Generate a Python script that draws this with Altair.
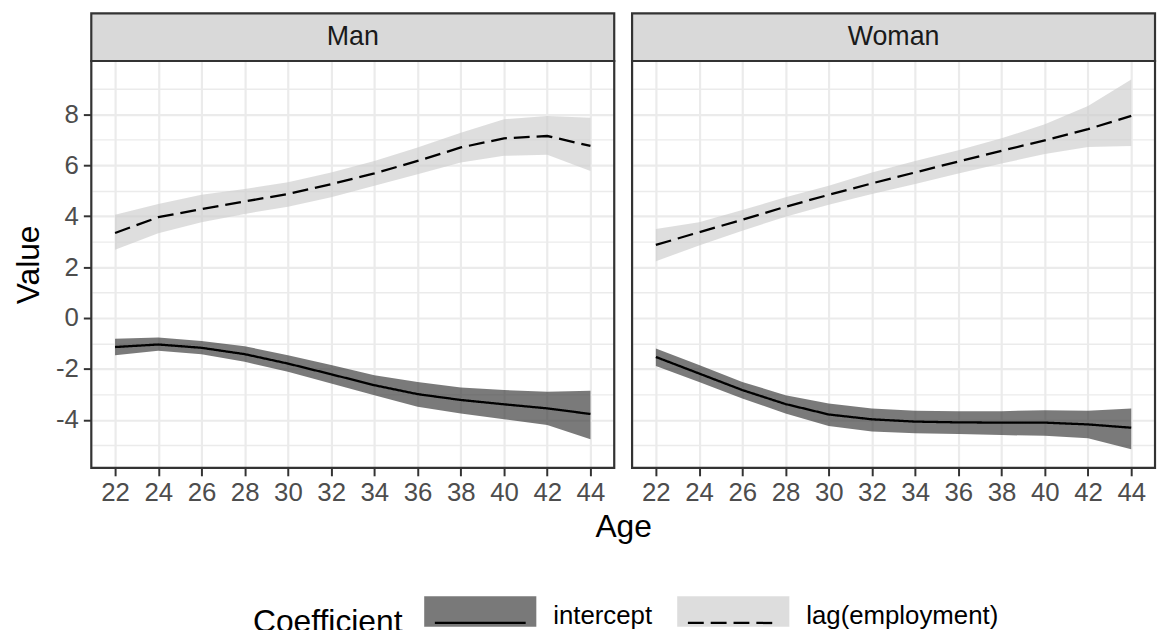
import altair as alt
import pandas as pd

FONT = "Liberation Sans"

ages = [22, 24, 26, 28, 30, 32, 34, 36, 38, 40, 42, 44]
genders = ["Man", "Woman"]
coefs = ["intercept", "lag(employment)"]

man_int_est = [-1.14, -1.04, -1.17, -1.42, -1.79, -2.21, -2.64, -2.99, -3.22, -3.39, -3.55, -3.77]
man_int_lo = [-1.46, -1.29, -1.42, -1.72, -2.11, -2.57, -3.03, -3.49, -3.75, -3.98, -4.20, -4.76]
man_int_hi = [-0.81, -0.77, -0.90, -1.11, -1.46, -1.85, -2.25, -2.51, -2.73, -2.83, -2.90, -2.86]
man_lag_est = [3.34, 3.96, 4.28, 4.58, 4.87, 5.26, 5.68, 6.17, 6.70, 7.06, 7.15, 6.76]
man_lag_lo = [2.68, 3.33, 3.76, 4.09, 4.37, 4.74, 5.20, 5.65, 6.11, 6.37, 6.41, 5.78]
man_lag_hi = [4.06, 4.48, 4.84, 5.07, 5.33, 5.72, 6.17, 6.70, 7.28, 7.81, 7.94, 7.87]
woman_int_est = [-1.53, -2.18, -2.83, -3.38, -3.79, -3.98, -4.07, -4.10, -4.11, -4.11, -4.18, -4.31]
woman_int_lo = [-1.89, -2.51, -3.16, -3.75, -4.24, -4.46, -4.53, -4.56, -4.60, -4.63, -4.72, -5.16]
woman_int_hi = [-1.20, -1.85, -2.51, -3.03, -3.36, -3.55, -3.64, -3.66, -3.66, -3.62, -3.64, -3.55]
woman_lag_est = [2.87, 3.37, 3.86, 4.37, 4.84, 5.29, 5.72, 6.15, 6.57, 6.98, 7.42, 7.94]
woman_lag_lo = [2.23, 2.85, 3.43, 3.98, 4.45, 4.87, 5.26, 5.68, 6.07, 6.44, 6.72, 6.76]
woman_lag_hi = [3.50, 3.76, 4.24, 4.74, 5.20, 5.72, 6.17, 6.59, 7.06, 7.61, 8.33, 9.37]

series = {
    ("Man", "intercept"): (man_int_est, man_int_lo, man_int_hi),
    ("Man", "lag(employment)"): (man_lag_est, man_lag_lo, man_lag_hi),
    ("Woman", "intercept"): (woman_int_est, woman_int_lo, woman_int_hi),
    ("Woman", "lag(employment)"): (woman_lag_est, woman_lag_lo, woman_lag_hi),
}
rows = []
for (g, c), (est, lo, hi) in series.items():
    for a, e, l, h in zip(ages, est, lo, hi):
        rows.append({"Gender": g, "Coefficient": c, "Line": c, "Age": a,
                     "est": e, "lower": l, "upper": h})
df = pd.DataFrame(rows)

W, H = 527, 410
STRIP = 48
all_vals = [v for s in series.values() for arr in s for v in arr]
lo_v, hi_v = min(all_vals), max(all_vals)
pad = 0.05 * (hi_v - lo_v)
yscale = alt.Scale(domain=[lo_v - pad, hi_v + pad], nice=False, zero=False)
xpad = 0.05 * (max(ages) - min(ages))
xscale = alt.Scale(domain=[min(ages) - xpad, max(ages) + xpad], nice=False, zero=False)

fill_scale = alt.Scale(domain=coefs, range=["#333333", "#CCCCCC"])
# dash scale takes its domain from the data field (keeps the two legends apart)
dash_scale = alt.Scale(range=[[1, 0], [16, 7]])

minor_test = "datum.value % 2 != 0"
grid_width = {"condition": {"test": minor_test, "value": 1.4}, "value": 2.2}

LEG_X, LEG_Y = 163, 501
BOX_PATH = "M-1,-0.355H1V0.19H-1Z"
LINE_PATH = "M-1,-0.355M1,0.19M-0.81,0.124H0.81"
SYM_SIZE = 113 * 113

common_leg = dict(
    orient="none", legendX=LEG_X, legendY=LEG_Y, direction="horizontal",
    title="Coefficient", titleOrient="left", titleAnchor="end",
    titleFontSize=32, titleFont=FONT, titleFontWeight="normal", titlePadding=20,
    titleBaseline="alphabetic", titleLimit=400,
    labelFontSize=26, labelFont=FONT, labelOffset=15.5, columnPadding=19,
    labelLimit=500, symbolSize=SYM_SIZE, symbolStrokeWidth=2.3, padding=0,
)
fill_legend = alt.Legend(
    symbolType=BOX_PATH, symbolStrokeColor="transparent", symbolOpacity=0.65,
    titleColor="black", labelColor="black", **common_leg,
)
dash_legend = alt.Legend(
    symbolType=LINE_PATH, symbolStrokeColor="black",
    symbolFillColor="transparent", titleColor="transparent", labelColor="transparent",
    zindex=2, **common_leg,
)


def panel(gender, first):
    base = alt.Chart(df).transform_filter(alt.datum.Gender == gender)
    xaxis_kw = dict(
        values=ages, grid=True, gridColor="#EBEBEB", gridWidth=2.2, tickSize=8,
        tickWidth=2, tickColor="#333333", labelFontSize=26, labelColor="#4D4D4D",
        labelPadding=4, domain=False, labelFlush=False, labelOverlap=False,
        labelFont=FONT, titleFont=FONT, titleFontSize=32, titleFontWeight="normal",
        titleColor="black", titlePadding=6,
    )
    if first:
        xaxis_kw["titleX"] = 536
        X = alt.X("Age:Q", scale=xscale, axis=alt.Axis(**xaxis_kw), title="Age")
    else:
        X = alt.X("Age:Q", scale=xscale, axis=alt.Axis(**xaxis_kw), title=None)

    if first:
        yaxis = alt.Axis(
            values=list(range(-5, 10)),
            labelExpr="datum.value % 2 == 0 ? '' + datum.value : ''",
            gridColor="#EBEBEB", gridWidth=grid_width,
            tickOpacity={"condition": {"test": minor_test, "value": 0}, "value": 1},
            tickSize=8, tickWidth=2, tickColor="#333333", labelFontSize=26,
            labelColor="#4D4D4D", labelPadding=5, domain=False, labelFont=FONT,
            titleFont=FONT, titleFontSize=32, titleFontWeight="normal",
            titleColor="black", titlePadding=10,
        )
        Yb = alt.Y("lower:Q", scale=yscale, axis=yaxis, title="Value")
        Yl = alt.Y("est:Q", scale=yscale, axis=yaxis, title="Value")
    else:
        yaxis = alt.Axis(
            values=list(range(-5, 10)), labels=False, ticks=False, domain=False,
            gridColor="#EBEBEB", gridWidth=grid_width,
        )
        Yb = alt.Y("lower:Q", scale=yscale, axis=yaxis, title=None)
        Yl = alt.Y("est:Q", scale=yscale, axis=yaxis, title=None)

    band = base.mark_area(opacity=0.65).encode(
        x=X, y=Yb, y2="upper:Q",
        fill=alt.Fill("Coefficient:N", scale=fill_scale,
                      legend=fill_legend if first else None),
    )
    line = base.mark_line(color="black", strokeWidth=2.3).encode(
        x=X, y=Yl,
        strokeDash=alt.StrokeDash("Line:N", scale=dash_scale,
                                  legend=dash_legend if first else None),
    )
    one = base.transform_filter((alt.datum.Age == ages[0]) & (alt.datum.Coefficient == coefs[0]))
    border = one.mark_rect(fill="transparent", stroke="#333333", strokeWidth=2.2).encode(
        x=alt.value(0), x2=alt.value(W), y=alt.value(0), y2=alt.value(H)
    )
    strip = one.mark_rect(fill="#D9D9D9", stroke="#333333", strokeWidth=2.2).encode(
        x=alt.value(0), x2=alt.value(W), y=alt.value(-STRIP), y2=alt.value(0)
    )
    strip_text = one.mark_text(fontSize=27, color="#1A1A1A", font=FONT).encode(
        text="Gender:N", x=alt.value(W / 2), y=alt.value(-STRIP / 2)
    )
    return alt.layer(band, line, border, strip, strip_text).properties(width=W, height=H)


chart = (
    alt.hconcat(panel("Man", True), panel("Woman", False), spacing=18, bounds="flush")
    .properties(padding={"left": 12, "top": 9, "right": 0, "bottom": 0})
    .configure_view(stroke="#333333", strokeWidth=2)
    .configure(font=FONT)
)

chart.save("out.html", embed_options={"renderer": "svg", "actions": False})
